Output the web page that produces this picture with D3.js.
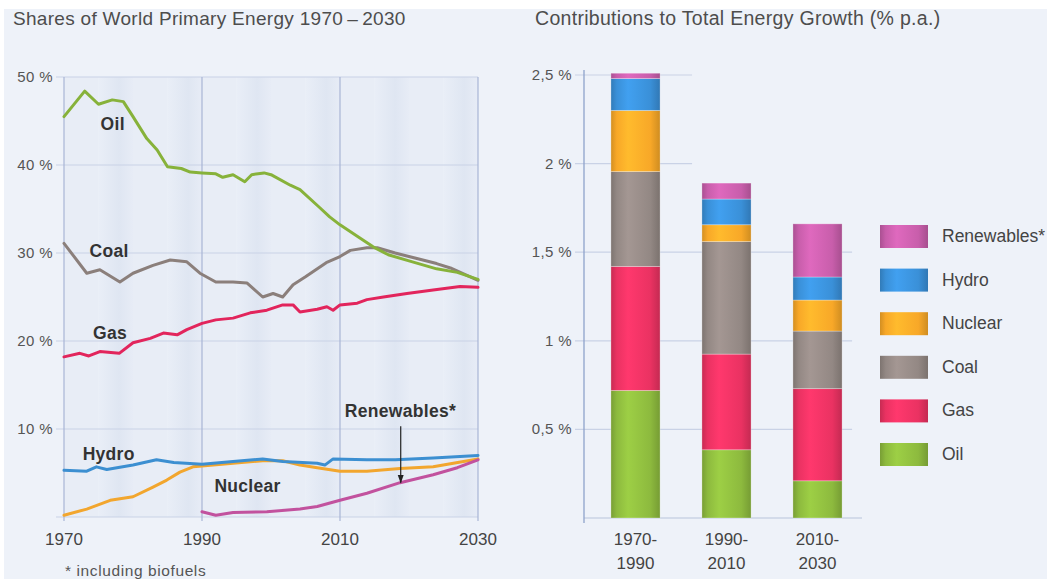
<!DOCTYPE html>
<html lang="en">
<head>
    <meta charset="UTF-8">
    <title>World Primary Energy</title>
    <script src="https://d3js.org/d3.v7.min.js"></script>
    <style>
        html, body { margin: 0; padding: 0; background: #fff; }
        svg { display: block; font-family: "Liberation Sans", Arial, sans-serif; }
    </style>
</head>
<body>
    <svg id="chart" width="1047" height="579"></svg>

    <script>
        // ---- left chart: shares of world primary energy, % ----
        const oilShare = [[1970,45.5],[1973,48.4],[1975,46.9],[1977,47.4],[1978.6,47.2],[1980,45.5],[1982,43],[1983.5,41.7],[1985,39.8],[1987,39.6],[1988.3,39.2],[1990,39.1],[1992,39.0],[1993,38.6],[1994.5,38.9],[1996.2,38.1],[1997.2,38.9],[1999,39.1],[2000,38.9],[2002.8,37.7],[2004.2,37.2],[2007,35.2],[2008.5,34.1],[2010,33.2],[2012.5,31.9],[2014.8,30.7],[2017,29.8],[2020,29.1],[2024,28.2],[2027,27.8],[2030,27.0]];
        const coalShare = [[1970,31.1],[1973.3,27.7],[1975.2,28.1],[1978.1,26.7],[1980,27.7],[1982.9,28.6],[1985.4,29.2],[1987.8,29.0],[1989.7,27.7],[1992,26.7],[1994.5,26.7],[1996.5,26.6],[1998.8,25.0],[2000.3,25.4],[2001.7,25.0],[2003.2,26.4],[2005,27.3],[2008,28.9],[2010,29.6],[2011.5,30.3],[2013.9,30.6],[2015.4,30.6],[2018,30.0],[2021,29.4],[2024,28.8],[2026,28.3],[2030,26.9]];
        const gasShare = [[1970,18.2],[1972.3,18.6],[1973.6,18.3],[1975.2,18.8],[1978,18.6],[1980,19.8],[1982.5,20.3],[1984.4,20.9],[1986.4,20.7],[1987.8,21.3],[1990,22.0],[1992,22.4],[1994.5,22.6],[1997,23.2],[1999.4,23.5],[2001.7,24.1],[2003.2,24.1],[2004.2,23.3],[2006.7,23.6],[2008.1,23.9],[2009,23.5],[2010,24.1],[2012.5,24.3],[2013.9,24.7],[2016.3,25.0],[2019.7,25.4],[2023.5,25.8],[2027.4,26.2],[2030,26.1]];
        const hydroShare = [[1970,5.3],[1973.3,5.2],[1974.7,5.7],[1976.2,5.4],[1980,5.9],[1983.4,6.5],[1985.9,6.2],[1990,6.0],[1994.5,6.3],[1998.8,6.6],[2001.7,6.3],[2006.7,6.1],[2007.8,5.9],[2009,6.6],[2013.9,6.5],[2018,6.5],[2023.5,6.7],[2030,7.0]];
        const nuclearShare = [[1970,0.2],[1973.3,0.9],[1976.7,1.9],[1980,2.3],[1982.9,3.4],[1984.9,4.2],[1986.8,5.1],[1988.7,5.7],[1990,5.8],[1994.5,6.1],[1998.8,6.4],[2001.7,6.4],[2004.2,5.9],[2006.7,5.6],[2010,5.2],[2013.9,5.2],[2018.7,5.5],[2023.5,5.7],[2030,6.6]];
        const renewShare = [[1990,0.6],[1992,0.2],[1994.5,0.5],[1999.4,0.6],[2004.2,0.9],[2006.7,1.2],[2010,1.9],[2013.9,2.7],[2018.7,3.9],[2023.5,4.8],[2027,5.6],[2030,6.5]];

        const yearTicks = [1970, 1990, 2010, 2030];
        const shareTicks = [10, 20, 30, 40, 50];

        // ---- right chart: contributions to total energy growth, % p.a. ----
        const periods = ["1970-1990", "1990-2010", "2010-2030"];
        const fuels = ["Oil", "Gas", "Coal", "Nuclear", "Hydro", "Renewables*"];
        const oilGrowth = [0.72, 0.385, 0.21];
        const gasGrowth = [0.70, 0.54, 0.52];
        const coalGrowth = [0.535, 0.635, 0.325];
        const nuclearGrowth = [0.345, 0.095, 0.175];
        const hydroGrowth = [0.18, 0.145, 0.13];
        const renewGrowth = [0.03, 0.09, 0.30];
        const growthTicks = [0.5, 1, 1.5, 2, 2.5];

        const lineColor = {
            "Oil": "#87b23a", "Coal": "#8b7f7b", "Gas": "#e2255c",
            "Hydro": "#3c8fd1", "Nuclear": "#f2a62e", "Renewables*": "#c2529e"
        };
        const barColor = {
            "Oil": "#8dba3e", "Gas": "#ea3262", "Coal": "#938884",
            "Nuclear": "#f8a828", "Hydro": "#3a90d8", "Renewables*": "#c85eab"
        };

        const svg = d3.select("#chart");

        // page background
        svg.append("rect").attr("x", 0).attr("y", 0).attr("width", 1047).attr("height", 579).attr("fill", "#ffffff");
        svg.append("rect").attr("x", 4).attr("y", 9).attr("width", 1043).attr("height", 570).attr("fill", "#eef2f9");

        const defs = svg.append("defs");

        // =============== LEFT CHART ===============
        const x = d3.scaleLinear().domain([1970, 2030]).range([64, 478]);
        const y = d3.scaleLinear().domain([0, 50]).range([517, 77]);

        svg.append("text")
            .attr("x", 13).attr("y", 25)
            .attr("font-size", 19).attr("letter-spacing", 0.3).attr("fill", "#4d4d4d")
            .text("Shares of World Primary Energy 1970\u2009\u2013\u20092030");

        // striped plot background
        const stripe = defs.append("linearGradient").attr("id", "stripe").attr("x1", 0).attr("x2", 1).attr("y1", 0).attr("y2", 0);
        stripe.append("stop").attr("offset", "0%").attr("stop-color", "#e9eef7");
        stripe.append("stop").attr("offset", "60%").attr("stop-color", "#dfe6f2");
        stripe.append("stop").attr("offset", "100%").attr("stop-color", "#e7ecf6");

        const stripeYears = d3.range(1970, 2030, 5);
        svg.append("g").selectAll("rect")
            .data(stripeYears)
            .join("rect")
            .attr("x", d => x(d))
            .attr("y", y(50))
            .attr("width", d => x(d + 5) - x(d))
            .attr("height", y(0) - y(50))
            .attr("fill", (d, i) => i % 2 ? "url(#stripe)" : "#e8edf6");

        // horizontal gridlines
        svg.append("g").selectAll("line")
            .data([0].concat(shareTicks))
            .join("line")
            .attr("x1", x(1970) - 8).attr("x2", x(2030))
            .attr("y1", d => y(d)).attr("y2", d => y(d))
            .attr("stroke", "#c9d2e6").attr("stroke-width", 1);

        // vertical year lines
        svg.append("g").selectAll("line")
            .data(yearTicks)
            .join("line")
            .attr("x1", d => x(d)).attr("x2", d => x(d))
            .attr("y1", y(50)).attr("y2", y(0) + 4)
            .attr("stroke", "#a8b5d6").attr("stroke-width", 1.2);

        // y tick labels
        svg.append("g").selectAll("text")
            .data(shareTicks)
            .join("text")
            .attr("x", 53).attr("y", d => y(d) + 5)
            .attr("text-anchor", "end")
            .attr("font-size", 15).attr("letter-spacing", 0.4).attr("fill", "#555")
            .text(d => d + " %");

        // x tick labels
        svg.append("g").selectAll("text")
            .data(yearTicks)
            .join("text")
            .attr("x", d => x(d)).attr("y", 545)
            .attr("text-anchor", "middle")
            .attr("font-size", 17).attr("fill", "#444")
            .text(d => d);

        const line = d3.line()
            .x(d => x(d[0]))
            .y(d => y(d[1]));

        const series = [
            { name: "Nuclear", data: nuclearShare },
            { name: "Renewables*", data: renewShare },
            { name: "Hydro", data: hydroShare },
            { name: "Gas", data: gasShare },
            { name: "Coal", data: coalShare },
            { name: "Oil", data: oilShare }
        ];

        svg.append("g").selectAll("path")
            .data(series)
            .join("path")
            .attr("d", d => line(d.data))
            .attr("fill", "none")
            .attr("stroke", d => lineColor[d.name])
            .attr("stroke-width", 3)
            .attr("stroke-linejoin", "round")
            .attr("stroke-linecap", "round");

        // series labels
        const seriesLabels = [
            { text: "Oil", year: 1975.3, value: 44.0 },
            { text: "Coal", year: 1973.7, value: 29.5 },
            { text: "Gas", year: 1974.2, value: 20.2 },
            { text: "Hydro", year: 1972.7, value: 6.5 },
            { text: "Nuclear", year: 1991.8, value: 2.8 },
            { text: "Renewables*", year: 2010.7, value: 11.4 }
        ];
        svg.append("g").selectAll("text")
            .data(seriesLabels)
            .join("text")
            .attr("x", d => x(d.year)).attr("y", d => y(d.value))
            .attr("font-size", 17.5).attr("letter-spacing", 0.3)
            .attr("font-weight", "bold").attr("fill", "#333")
            .text(d => d.text);

        // arrow to renewables line
        defs.append("marker")
            .attr("id", "arrow").attr("viewBox", "0 0 10 10")
            .attr("refX", 9).attr("refY", 5)
            .attr("markerWidth", 7).attr("markerHeight", 7)
            .attr("orient", "auto")
            .append("path").attr("d", "M0,1.5 L10,5 L0,8.5 Z").attr("fill", "#222");
        svg.append("line")
            .attr("x1", x(2018.8)).attr("x2", x(2018.8))
            .attr("y1", y(10.3)).attr("y2", y(3.9))
            .attr("stroke", "#222").attr("stroke-width", 1.2)
            .attr("marker-end", "url(#arrow)");

        svg.append("text")
            .attr("x", 65).attr("y", 576)
            .attr("font-size", 15.5).attr("letter-spacing", 0.6).attr("fill", "#555")
            .text("* including biofuels");

        // =============== RIGHT CHART ===============
        const xb = d3.scaleBand().domain(periods).range([590, 863]).paddingInner(0.46).paddingOuter(0.23);
        const yb = d3.scaleLinear().domain([0, 2.5]).range([518, 75]);

        svg.append("text")
            .attr("x", 535).attr("y", 25)
            .attr("font-size", 19.5).attr("letter-spacing", 0.3).attr("fill", "#4d4d4d")
            .text("Contributions to Total Energy Growth (% p.a.)");

        const growth = periods.map((p, i) => ({
            period: p,
            "Oil": oilGrowth[i], "Gas": gasGrowth[i], "Coal": coalGrowth[i],
            "Nuclear": nuclearGrowth[i], "Hydro": hydroGrowth[i], "Renewables*": renewGrowth[i]
        }));
        const stacked = d3.stack().keys(fuels)(growth);
        const totals = growth.map(g => d3.sum(fuels, f => g[f]));

        // gridlines end just past the last bar that reaches them
        svg.append("g").selectAll("line")
            .data(growthTicks)
            .join("line")
            .attr("x1", 575)
            .attr("x2", t => {
                let last = 0;
                totals.forEach((tot, i) => { if (tot >= t) last = i; });
                return xb(periods[last]) + xb.bandwidth() + (last === 2 ? 10 : 32);
            })
            .attr("y1", t => yb(t)).attr("y2", t => yb(t))
            .attr("stroke", "#c9d2e6").attr("stroke-width", 1.2);

        svg.append("line")
            .attr("x1", 584).attr("x2", 862)
            .attr("y1", yb(0)).attr("y2", yb(0))
            .attr("stroke", "#b7c3dc").attr("stroke-width", 1.2);
        svg.append("line")
            .attr("x1", 584).attr("x2", 584)
            .attr("y1", 70).attr("y2", 523)
            .attr("stroke", "#8ea2cb").attr("stroke-width", 1.3);

        svg.append("g").selectAll("text")
            .data(growthTicks)
            .join("text")
            .attr("x", 572).attr("y", t => yb(t) + 5)
            .attr("text-anchor", "end")
            .attr("font-size", 15).attr("letter-spacing", 0.4).attr("fill", "#555")
            .text(t => String(t).replace(".", ",") + " %");

        // horizontal shading for the bars
        fuels.forEach((f, i) => {
            const c = d3.color(barColor[f]);
            const g = defs.append("linearGradient").attr("id", "bar" + i)
                .attr("x1", 0).attr("x2", 1).attr("y1", 0).attr("y2", 0);
            g.append("stop").attr("offset", "0%").attr("stop-color", c.darker(0.45));
            g.append("stop").attr("offset", "12%").attr("stop-color", c);
            g.append("stop").attr("offset", "35%").attr("stop-color", c.brighter(0.3));
            g.append("stop").attr("offset", "80%").attr("stop-color", c);
            g.append("stop").attr("offset", "100%").attr("stop-color", c.darker(0.5));
        });

        svg.append("g").selectAll("g")
            .data(stacked)
            .join("g")
            .attr("fill", (d, i) => "url(#bar" + i + ")")
            .selectAll("rect")
            .data(d => d)
            .join("rect")
            .attr("x", d => xb(d.data.period))
            .attr("y", d => yb(d[1]))
            .attr("width", xb.bandwidth())
            .attr("height", d => yb(d[0]) - yb(d[1]))
            .attr("stroke", "rgba(255,255,255,0.35)")
            .attr("stroke-width", 0.8);

        // period labels on two lines
        const periodLabels = svg.append("g").selectAll("text")
            .data(periods)
            .join("text")
            .attr("x", p => xb(p) + xb.bandwidth() / 2)
            .attr("y", 545)
            .attr("text-anchor", "middle")
            .attr("font-size", 17).attr("fill", "#444");
        periodLabels.append("tspan")
            .attr("x", p => xb(p) + xb.bandwidth() / 2)
            .text(p => p.split("-")[0] + "-");
        periodLabels.append("tspan")
            .attr("x", p => xb(p) + xb.bandwidth() / 2)
            .attr("dy", 24)
            .text(p => p.split("-")[1]);

        // legend, top entry = last stacked fuel
        const legendFuels = fuels.slice().reverse();
        const legend = svg.append("g").selectAll("g")
            .data(legendFuels)
            .join("g")
            .attr("transform", (d, i) => `translate(880,${225 + i * 43.6})`);
        legend.append("rect")
            .attr("width", 48).attr("height", 23)
            .attr("fill", d => "url(#bar" + fuels.indexOf(d) + ")");
        legend.append("text")
            .attr("x", 62).attr("y", 17)
            .attr("font-size", 17.5).attr("fill", "#444")
            .text(d => d);
    </script>
</body>
</html>
